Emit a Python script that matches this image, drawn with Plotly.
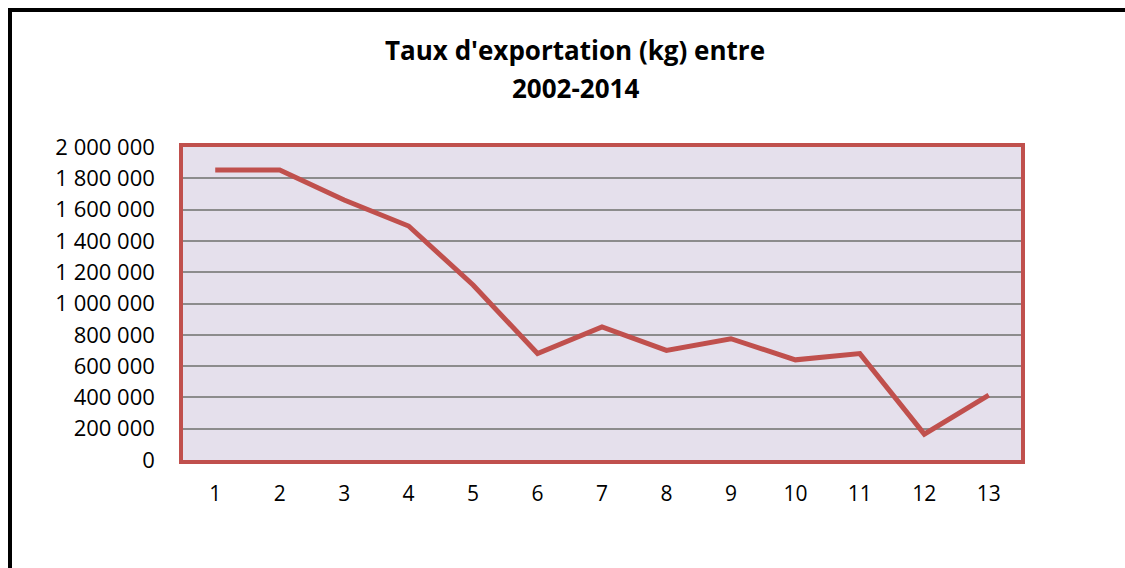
import plotly.graph_objects as go

years_idx = [1, 2, 3, 4, 5, 6, 7, 8, 9, 10, 11, 12, 13]
exports_kg = [1853000, 1853000, 1661000, 1495000, 1118000, 680000, 850000,
              700000, 775000, 640000, 680000, 165000, 415000]
y_ticks = [0, 200000, 400000, 600000, 800000, 1000000, 1200000, 1400000,
           1600000, 1800000, 2000000]
y_tick_labels = ["0", "200 000", "400 000", "600 000", "800 000", "1 000 000",
                 "1 200 000", "1 400 000", "1 600 000", "1 800 000", "2 000 000"]
title_lines = ["Taux d'exportation (kg) entre", "2002-2014"]

W, H = 1125, 568
L, R, T, B = 183, 1021, 147, 460

def px_x(p):
    return (p - L) / (R - L)

def px_y(p):
    return (B - p) / (B - T)

RED = "#C0504D"
FONT = "Open Sans, Lato, sans-serif"

fig = go.Figure()
fig.add_trace(go.Scatter(
    x=years_idx, y=exports_kg, mode="lines",
    line=dict(color=RED, width=5),
    hoverinfo="x+y", showlegend=False,
))

fig.update_layout(
    width=W, height=H,
    margin=dict(l=L, r=W - R, t=T, b=H - B, pad=0),
    paper_bgcolor="white",
    plot_bgcolor="#E5E0EC",
    font=dict(family=FONT, size=23, color="black"),
    showlegend=False,
)

fig.update_xaxes(
    range=[0.5, 13.5], tickmode="array", tickvals=years_idx,
    ticktext=[str(v) for v in years_idx],
    showgrid=False, zeroline=False,
    showline=True, linecolor=RED, linewidth=3.5, mirror=True,
    ticks="outside", ticklen=12, tickcolor="rgba(0,0,0,0)",
    tickfont=dict(family=FONT, size=21, color="black"),
)
fig.update_yaxes(
    range=[0, 2000000], tickmode="array", tickvals=y_ticks,
    ticktext=y_tick_labels,
    showgrid=True, gridcolor="#8C8C8C", gridwidth=1.5,
    zeroline=False,
    showline=True, linecolor=RED, linewidth=3.5, mirror=True,
    ticks="outside", ticklen=20, tickcolor="rgba(0,0,0,0)",
    tickfont=dict(family=FONT, size=22, color="black"),
)

# Title lines
for txt, ypix in zip(title_lines, [50, 88]):
    fig.add_annotation(
        text="<b>" + txt + "</b>", x=px_x(575), y=px_y(ypix),
        xref="paper", yref="paper", showarrow=False,
        xanchor="center", yanchor="middle",
        font=dict(family=FONT, size=26, color="black"),
    )

# Outer black frame (top and left edges visible)
fig.add_shape(type="line", xref="paper", yref="paper",
              x0=px_x(10), x1=px_x(1130), y0=px_y(10), y1=px_y(10),
              line=dict(color="black", width=4), layer="above")
fig.add_shape(type="line", xref="paper", yref="paper",
              x0=px_x(10), x1=px_x(10), y0=px_y(8), y1=px_y(575),
              line=dict(color="black", width=4), layer="above")

fig.write_html("out.html",
               config={"displayModeBar": False},
               post_script="document.body.style.margin='0';document.body.style.overflow='hidden';")
